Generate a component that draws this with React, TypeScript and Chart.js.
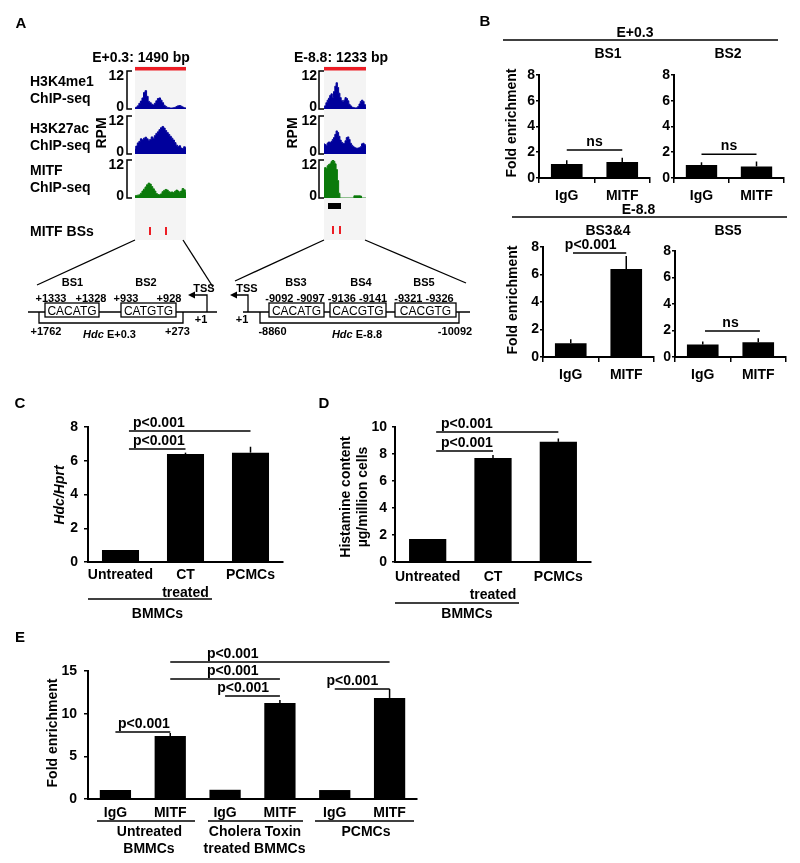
import React, { useEffect, useRef } from 'react';
import { Chart, registerables } from 'chart.js';

Chart.register(...registerables);

const FONT = '"Liberation Sans", Arial, Helvetica, sans-serif';

// ---------------- Panel A: ChIP-seq tracks (RPM, 0-12) ----------------
const h3k4me1E03 = [0.3, 0.6, 1.0, 1.8, 2.5, 3.5, 5.2, 5.8, 4.0, 2.4, 2.0, 1.5, 1.3, 1.8, 2.6, 3.3, 3.5, 2.8, 2.0, 1.2, 0.8, 0.5, 0.4, 0.3, 0.3, 0.4, 0.5, 0.8, 1.0, 1.1, 0.9, 0.6, 0.4, 0.3];
const h3k27acE03 = [1.6, 2.5, 3.5, 4.0, 4.8, 4.5, 5.0, 5.3, 4.8, 4.3, 4.6, 5.4, 5.0, 5.8, 6.5, 7.0, 7.7, 8.3, 8.7, 8.2, 7.4, 6.8, 6.2, 5.6, 5.0, 4.4, 3.6, 2.8, 2.4, 2.6, 1.9, 1.7, 2.3, 2.0];
const mitfE03 = [0.7, 0.8, 0.9, 1.0, 1.5, 2.2, 2.8, 3.5, 4.2, 4.7, 4.4, 3.6, 2.9, 2.2, 1.4, 1.1, 1.0, 1.3, 2.0, 2.4, 2.7, 2.5, 2.0, 1.8, 1.9, 1.7, 2.1, 2.5, 2.2, 1.8, 2.2, 3.0, 2.6, 1.8];
const h3k4me1E88 = [0.5, 1.0, 2.0, 2.8, 3.4, 4.3, 4.8, 3.6, 5.5, 7.2, 8.3, 6.8, 5.0, 3.6, 2.7, 2.3, 2.8, 3.6, 3.3, 2.6, 1.5, 1.0, 0.6, 0.5, 0.4, 0.3, 0.4, 0.8, 1.6, 2.4, 2.8, 2.4, 1.4, 0.8];
const h3k27acE88 = [3.2, 3.0, 2.8, 3.5, 3.8, 3.6, 4.0, 4.6, 5.2, 6.2, 7.3, 6.8, 5.6, 4.4, 3.7, 3.4, 3.3, 4.2, 5.2, 5.4, 4.6, 3.4, 2.8, 2.4, 2.1, 1.9, 1.8, 1.9, 2.0, 2.3, 3.2, 3.4, 3.0, 2.6];
const mitfE88 = [8.9, 9.6, 9.4, 10.2, 10.6, 10.8, 11.5, 12.0, 11.6, 10.8, 9.0, 5.5, 1.5, 0, 0, 0, 0, 0, 0, 0, 0, 0, 0, 0, 0.7, 0.7, 0.7, 0.7, 0.7, 0.6, 0, 0, 0, 0];

// ---------------- Panel B: ChIP-qPCR ----------------
const chipLabels = ['IgG', 'MITF'];
const bs1Values = [1.08, 1.25];
const bs1Errors = [0.3, 0.32];
const bs2Values = [1.0, 0.9];
const bs2Errors = [0.22, 0.38];
const bs34Values = [1.0, 6.4];
const bs34Errors = [0.3, 0.95];
const bs5Values = [0.95, 1.11];
const bs5Errors = [0.22, 0.3];
const bTicks = { max: 8, step: 2 };

// ---------------- Panel C: Hdc/Hprt ----------------
const cellLabels = ['Untreated', ['CT', 'treated'], 'PCMCs'];
const hdcValues = [0.71, 6.4, 6.48];
const hdcErrors = [0, 0.08, 0.35];

// ---------------- Panel D: Histamine ----------------
const histamineValues = [1.7, 7.7, 8.9];
const histamineErrors = [0, 0.22, 0.25];

// ---------------- Panel E: ChIP-qPCR ----------------
const eLabels = ['IgG', 'MITF', 'IgG', 'MITF', 'IgG', 'MITF'];
const eValues = [1.05, 7.38, 1.08, 11.25, 1.05, 11.84];
const eErrors = [0, 0.36, 0, 0.35, 0, 1.06];

type Sig = { a: number; b: number; v: number; text: string; tx: number };

const annotPlugin = {
  id: 'annot',
  afterDatasetsDraw(chart: any, _args: any, opts: any) {
    const ctx = chart.ctx;
    const xs = chart.scales.x;
    const ys = chart.scales.y;
    const meta = chart.getDatasetMeta(0);
    const vals = chart.data.datasets[0].data;
    ctx.save();
    ctx.strokeStyle = '#000';
    ctx.lineWidth = 1.5;
    (opts.errors || []).forEach((e: number, i: number) => {
      if (!e) return;
      const bar = meta.data[i];
      const yTop = ys.getPixelForValue(vals[i] + e);
      ctx.beginPath();
      ctx.moveTo(bar.x, bar.y);
      ctx.lineTo(bar.x, yTop);
      ctx.stroke();
    });
    const n = chart.data.labels.length;
    const cw = (xs.right - xs.left) / n;
    const px = (p: number) => xs.left + (p + 0.5) * cw;
    ctx.font = `bold 14px ${FONT}`;
    ctx.textAlign = 'center';
    ctx.textBaseline = 'alphabetic';
    ctx.fillStyle = '#000';
    (opts.sigs || []).forEach((s: Sig) => {
      const y = ys.getPixelForValue(s.v);
      ctx.beginPath();
      ctx.moveTo(px(s.a), y);
      ctx.lineTo(px(s.b), y);
      ctx.stroke();
      ctx.fillText(s.text, px(s.tx), y - 4);
    });
    ctx.restore();
  },
};

type BarProps = {
  axisLeft: number; axisRight: number; top: number; zero: number;
  yw: number; pt: number; pr: number; xh: number;
  labels: any[]; values: number[]; errors: number[];
  yMax: number; step: number; sigs: Sig[];
  xTicks: boolean; xPad: number; yTick: number; yPad: number;
};

function BarChart(p: BarProps) {
  const ref = useRef<HTMLCanvasElement>(null);
  const left = p.axisLeft - p.yw;
  const topC = p.top - p.pt;
  const w = p.axisRight - p.axisLeft + p.yw + p.pr;
  const h = p.pt + (p.zero - p.top) + p.xh;
  useEffect(() => {
    const font = { family: FONT, size: 14, weight: 'bold' as const, lineHeight: 1.28 };
    const chart = new Chart(ref.current as HTMLCanvasElement, {
      type: 'bar',
      data: {
        labels: p.labels,
        datasets: [{ data: p.values, backgroundColor: '#000', borderWidth: 0, barPercentage: 0.57, categoryPercentage: 1 }],
      },
      options: {
        responsive: false,
        animation: false,
        devicePixelRatio: 1,
        layout: { padding: { top: p.pt, right: p.pr, left: 0, bottom: 0 }, autoPadding: false },
        plugins: { legend: { display: false }, tooltip: { enabled: false }, annot: { errors: p.errors, sigs: p.sigs } } as any,
        scales: {
          x: {
            grid: { display: p.xTicks, drawOnChartArea: false, drawTicks: true, tickLength: 5, color: '#000', lineWidth: 1.5 },
            border: { display: true, color: '#000', width: 2 },
            ticks: { color: '#000', font, padding: p.xPad, maxRotation: 0, autoSkip: false },
            afterFit: (s: any) => { s.height = p.xh; },
          },
          y: {
            min: 0,
            max: p.yMax,
            ticks: { stepSize: p.step, color: '#000', font, padding: p.yPad },
            grid: { drawOnChartArea: false, tickLength: p.yTick, color: '#000', lineWidth: 1.5 },
            border: { color: '#000', width: 2 },
            afterFit: (s: any) => { s.width = p.yw; },
          },
        },
      } as any,
      plugins: [annotPlugin],
    });
    return () => chart.destroy();
  }, []);
  return <canvas ref={ref} width={w} height={h} style={{ position: 'absolute', left, top: topC, width: w, height: h, zIndex: 1 }} />;
}

function TrackChart({ x, y, w, h, data, color }: { x: number; y: number; w: number; h: number; data: number[]; color: string }) {
  const ref = useRef<HTMLCanvasElement>(null);
  useEffect(() => {
    const chart = new Chart(ref.current as HTMLCanvasElement, {
      type: 'line',
      data: {
        labels: data.map((_, i) => String(i)),
        datasets: [{ data, fill: 'origin', backgroundColor: color, borderColor: color, borderWidth: 1, pointRadius: 0, stepped: 'middle' }],
      },
      options: {
        responsive: false,
        animation: false,
        devicePixelRatio: 1,
        layout: { padding: 0, autoPadding: false },
        plugins: { legend: { display: false }, tooltip: { enabled: false } },
        scales: { x: { display: false }, y: { display: false, min: 0, max: 12 } },
      } as any,
    });
    return () => chart.destroy();
  }, []);
  return <canvas ref={ref} width={w} height={h} style={{ position: 'absolute', left: x, top: y, width: w, height: h, zIndex: 1 }} />;
}

const T = ({ x, y, children, anchor = 'middle', size = 14, weight = 'bold', rot, italic }: any) => (
  <text
    x={x}
    y={y}
    textAnchor={anchor}
    dominantBaseline="central"
    fontSize={size}
    fontWeight={weight}
    fontStyle={italic ? 'italic' : 'normal'}
    transform={rot ? `rotate(${rot} ${x} ${y})` : undefined}
    fill="#000"
  >
    {children}
  </text>
);

const BLUE = '#00009c';
const GREEN = '#0b7a0b';
const RED = '#ec1c24';

function Bracket({ x, t, b, rightLabel }: { x: number; t: number; b: number; rightLabel: number }) {
  return (
    <g>
      <polyline points={`${x + 5},${t} ${x},${t} ${x},${b} ${x + 5},${b}`} fill="none" stroke="#000" strokeWidth={1.5} />
      <T x={rightLabel} y={t + 4} anchor="end">12</T>
      <T x={rightLabel} y={b - 3} anchor="end">0</T>
    </g>
  );
}

function Box({ x, w, text }: { x: number; w: number; text: string }) {
  return (
    <g>
      <rect x={x} y={303} width={w} height={14} fill="#fff" stroke="#000" strokeWidth={1.3} />
      <T x={x + w / 2} y={310.5} size={12} weight="normal">{text}</T>
    </g>
  );
}

export default function App() {
  const tracksY = [71, 116, 160];
  return (
    <div style={{ position: 'absolute', left: 0, top: 0, width: 800, height: 863, background: '#fff', overflow: 'hidden' }}>
      {/* background layer */}
      <svg width={800} height={863} style={{ position: 'absolute', left: 0, top: 0, zIndex: 0 }}>
        <rect x={135} y={66} width={51} height={174} fill="#f4f4f4" />
        <rect x={324} y={66} width={42} height={174} fill="#f4f4f4" />
      </svg>

      {/* Panel A tracks */}
      <TrackChart x={135} y={tracksY[0]} w={51} h={38} data={h3k4me1E03} color={BLUE} />
      <TrackChart x={135} y={tracksY[1]} w={51} h={38} data={h3k27acE03} color={BLUE} />
      <TrackChart x={135} y={tracksY[2]} w={51} h={38} data={mitfE03} color={GREEN} />
      <TrackChart x={324} y={tracksY[0]} w={42} h={38} data={h3k4me1E88} color={BLUE} />
      <TrackChart x={324} y={tracksY[1]} w={42} h={38} data={h3k27acE88} color={BLUE} />
      <TrackChart x={324} y={tracksY[2]} w={42} h={38} data={mitfE88} color={GREEN} />

      {/* Panel B */}
      <BarChart axisLeft={539} axisRight={650} top={71} zero={178} yw={30} pt={6} pr={6} xh={30}
        labels={chipLabels} values={bs1Values} errors={bs1Errors} yMax={bTicks.max} step={bTicks.step}
        sigs={[{ a: 0, b: 1, v: 2.17, text: 'ns', tx: 0.5 }]} xTicks xPad={4} yTick={3} yPad={1} />
      <BarChart axisLeft={674} axisRight={784} top={71} zero={178} yw={30} pt={6} pr={6} xh={30}
        labels={chipLabels} values={bs2Values} errors={bs2Errors} yMax={bTicks.max} step={bTicks.step}
        sigs={[{ a: 0, b: 1, v: 1.85, text: 'ns', tx: 0.5 }]} xTicks xPad={4} yTick={3} yPad={1} />
      <BarChart axisLeft={543} axisRight={654} top={247} zero={357} yw={30} pt={14} pr={6} xh={30}
        labels={chipLabels} values={bs34Values} errors={bs34Errors} yMax={bTicks.max} step={bTicks.step}
        sigs={[{ a: 0.04, b: 1, v: 7.56, text: 'p<0.001', tx: 0.36 }]} xTicks xPad={4} yTick={3} yPad={1} />
      <BarChart axisLeft={675} axisRight={786} top={247} zero={357} yw={30} pt={6} pr={6} xh={30}
        labels={chipLabels} values={bs5Values} errors={bs5Errors} yMax={bTicks.max} step={bTicks.step}
        sigs={[{ a: 0.04, b: 1.03, v: 1.96, text: 'ns', tx: 0.5 }]} xTicks xPad={4} yTick={3} yPad={1} />

      {/* Panel C */}
      <BarChart axisLeft={88} axisRight={283} top={427} zero={562} yw={32} pt={18} pr={6} xh={45}
        labels={cellLabels} values={hdcValues} errors={hdcErrors} yMax={8} step={2}
        sigs={[{ a: 0.13, b: 2, v: 7.76, text: 'p<0.001', tx: 0.59 }, { a: 0.13, b: 1, v: 6.7, text: 'p<0.001', tx: 0.59 }]}
        xTicks={false} xPad={-1} yTick={4} yPad={6} />

      {/* Panel D */}
      <BarChart axisLeft={395} axisRight={591} top={427} zero={562} yw={32} pt={18} pr={6} xh={45}
        labels={cellLabels} values={histamineValues} errors={histamineErrors} yMax={10} step={2}
        sigs={[{ a: 0.13, b: 2, v: 9.63, text: 'p<0.001', tx: 0.6 }, { a: 0.13, b: 1, v: 8.22, text: 'p<0.001', tx: 0.6 }]}
        xTicks={false} xPad={1.5} yTick={3} yPad={5} />

      {/* Panel E */}
      <BarChart axisLeft={88} axisRight={417} top={671} zero={799} yw={36} pt={34} pr={6} xh={25}
        labels={eLabels} values={eValues} errors={eErrors} yMax={15} step={5}
        sigs={[
          { a: 1, b: 5, v: 16.06, text: 'p<0.001', tx: 2.14 },
          { a: 1, b: 3, v: 14.07, text: 'p<0.001', tx: 2.14 },
          { a: 2, b: 3, v: 12.07, text: 'p<0.001', tx: 2.33 },
          { a: 4, b: 5, v: 12.9, text: 'p<0.001', tx: 4.32 },
          { a: 0, b: 1, v: 7.85, text: 'p<0.001', tx: 0.52 },
        ]}
        xTicks={false} xPad={0} yTick={4} yPad={7} />

      {/* foreground annotations */}
      <svg width={800} height={863} style={{ position: 'absolute', left: 0, top: 0, zIndex: 2, pointerEvents: 'none' }} fontFamily={FONT}>
        {/* ---- Panel A ---- */}
        <T x={21} y={22} size={15}>A</T>
        <T x={141} y={57}>E+0.3: 1490 bp</T>
        <T x={341} y={57}>E-8.8: 1233 bp</T>
        <rect x={135} y={67} width={51} height={3.5} fill={RED} />
        <rect x={324} y={67} width={42} height={3.5} fill={RED} />

        <T x={30} y={81} anchor="start">H3K4me1</T>
        <T x={30} y={98} anchor="start">ChIP-seq</T>
        <T x={30} y={128} anchor="start">H3K27ac</T>
        <T x={30} y={145} anchor="start">ChIP-seq</T>
        <T x={30} y={170} anchor="start">MITF</T>
        <T x={30} y={187} anchor="start">ChIP-seq</T>
        <T x={30} y={231} anchor="start">MITF BSs</T>

        <T x={101} y={133} rot={-90}>RPM</T>
        <T x={292} y={133} rot={-90}>RPM</T>

        {tracksY.map((t) => (
          <Bracket key={'l' + t} x={127} t={t} b={t + 38} rightLabel={124} />
        ))}
        {tracksY.map((t) => (
          <Bracket key={'r' + t} x={319} t={t} b={t + 38} rightLabel={317} />
        ))}

        <rect x={149} y={227} width={2} height={8} fill={RED} />
        <rect x={165} y={227} width={2} height={8} fill={RED} />
        <rect x={332} y={226} width={2} height={8} fill={RED} />
        <rect x={339} y={226} width={2} height={8} fill={RED} />
        <rect x={328} y={203} width={13} height={6} fill="#000" />

        <g stroke="#000" strokeWidth={1.3}>
          <line x1={135} y1={240} x2={37} y2={285} />
          <line x1={183} y1={240} x2={213} y2={287} />
          <line x1={324} y1={240} x2={235} y2={281} />
          <line x1={365} y1={240} x2={466} y2={283} />
          <line x1={28} y1={312} x2={217} y2={312} />
          <line x1={243} y1={312} x2={470} y2={312} />
        </g>
        <g fill="none" stroke="#000" strokeWidth={1.3}>
          <polyline points="39,312 39,323 183,323 183,312" />
          <polyline points="207,312 207,295 194,295" />
          <polyline points="260,312 260,323 459,323 459,312" />
          <polyline points="248,312 248,295 236,295" />
        </g>
        <polygon points="188,295 195,291.5 195,298.5" fill="#000" />
        <polygon points="230,295 237,291.5 237,298.5" fill="#000" />

        <Box x={45} w={54} text="CACATG" />
        <Box x={121} w={55} text="CATGTG" />
        <Box x={269} w={55} text="CACATG" />
        <Box x={330} w={56} text="CACGTG" />
        <Box x={395} w={61} text="CACGTG" />

        <T x={72.5} y={281.5} size={11}>BS1</T>
        <T x={146} y={281.5} size={11}>BS2</T>
        <T x={204} y={288} size={11}>TSS</T>
        <T x={51} y={297.5} size={11}>+1333</T>
        <T x={91} y={297.5} size={11}>+1328</T>
        <T x={126} y={297.5} size={11}>+933</T>
        <T x={169} y={297.5} size={11}>+928</T>
        <T x={46} y={331} size={11}>+1762</T>
        <text x={109.5} y={334} textAnchor="middle" dominantBaseline="central" fontSize={11} fontWeight="bold">
          <tspan fontStyle="italic">Hdc</tspan> E+0.3
        </text>
        <T x={177.5} y={331} size={11}>+273</T>
        <T x={201} y={319} size={11}>+1</T>

        <T x={296} y={281.5} size={11}>BS3</T>
        <T x={361} y={281.5} size={11}>BS4</T>
        <T x={424} y={281.5} size={11}>BS5</T>
        <T x={247} y={288} size={11}>TSS</T>
        <T x={242} y={319} size={11}>+1</T>
        <T x={295} y={297.5} size={11}>-9092 -9097</T>
        <T x={357.5} y={297.5} size={11}>-9136 -9141</T>
        <T x={424} y={297.5} size={11}>-9321 -9326</T>
        <T x={272.5} y={331} size={11}>-8860</T>
        <text x={357} y={334} textAnchor="middle" dominantBaseline="central" fontSize={11} fontWeight="bold">
          <tspan fontStyle="italic">Hdc</tspan> E-8.8
        </text>
        <T x={455} y={331} size={11}>-10092</T>

        {/* ---- Panel B ---- */}
        <T x={485} y={20} size={15}>B</T>
        <T x={635} y={31.5}>E+0.3</T>
        <line x1={503} y1={40} x2={778} y2={40} stroke="#000" strokeWidth={1.5} />
        <T x={608} y={52.5}>BS1</T>
        <T x={728} y={52.5}>BS2</T>
        <T x={511} y={123} rot={-90}>Fold enrichment</T>
        <T x={638.5} y={209}>E-8.8</T>
        <line x1={512} y1={217} x2={787} y2={217} stroke="#000" strokeWidth={1.5} />
        <T x={608} y={229.5}>BS3&amp;4</T>
        <T x={728} y={229.5}>BS5</T>
        <T x={511.5} y={300} rot={-90}>Fold enrichment</T>

        {/* ---- Panel C ---- */}
        <T x={20} y={402} size={15}>C</T>
        <T x={59} y={495} rot={-90} italic>Hdc/Hprt</T>
        <line x1={88} y1={599} x2={212} y2={599} stroke="#000" strokeWidth={1.5} />
        <T x={157.5} y={613}>BMMCs</T>

        {/* ---- Panel D ---- */}
        <T x={324} y={402} size={15}>D</T>
        <T x={345} y={497} rot={-90}>Histamine content</T>
        <T x={362} y={497} rot={-90}>µg/million cells</T>
        <line x1={395} y1={603} x2={519} y2={603} stroke="#000" strokeWidth={1.5} />
        <T x={467} y={613}>BMMCs</T>

        {/* ---- Panel E ---- */}
        <T x={20} y={636} size={15}>E</T>
        <T x={52} y={733} rot={-90}>Fold enrichment</T>
        <g stroke="#000" strokeWidth={1.5}>
          <line x1={97} y1={821} x2={195} y2={821} />
          <line x1={208} y1={821} x2={303} y2={821} />
          <line x1={315} y1={821} x2={414} y2={821} />
        </g>
        <T x={149.5} y={831}>Untreated</T>
        <T x={149} y={848}>BMMCs</T>
        <T x={255} y={831}>Cholera Toxin</T>
        <T x={254.5} y={848}>treated BMMCs</T>
        <T x={366} y={831}>PCMCs</T>
      </svg>
    </div>
  );
}
